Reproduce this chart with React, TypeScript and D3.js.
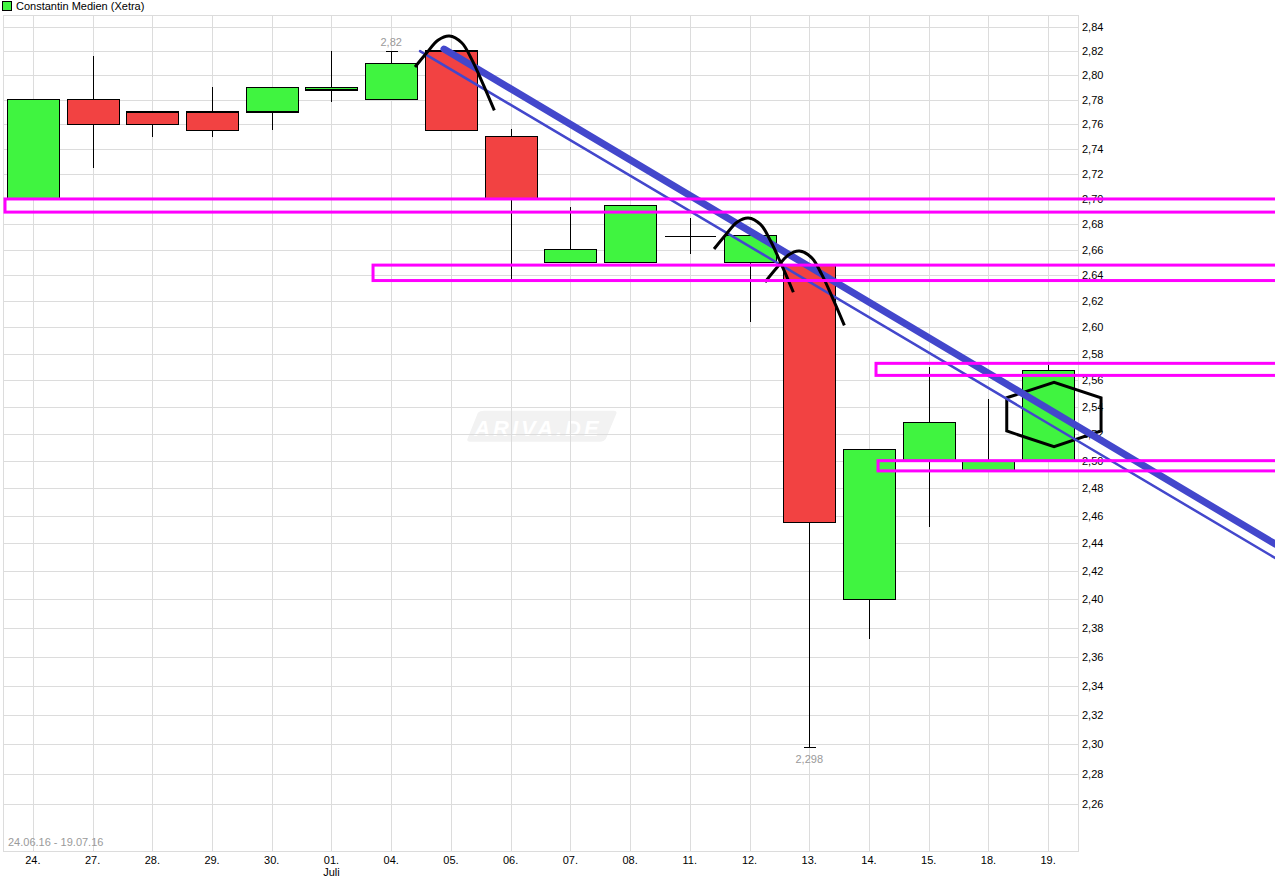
import React from 'react';
import * as d3 from 'd3';

// ---------- data ----------
const dayLabels = ['24.', '27.', '28.', '29.', '30.', '01.', '04.', '05.', '06.', '07.', '08.', '11.', '12.', '13.', '14.', '15.', '18.', '19.'];
const monthLabels = ['', '', '', '', '', 'Juli', '', '', '', '', '', '', '', '', '', '', '', ''];
const opens = [2.70, 2.78, 2.77, 2.77, 2.77, 2.788, 2.78, 2.82, 2.75, 2.65, 2.65, 2.67, 2.65, 2.648, 2.40, 2.50, 2.493, 2.50];
const highs = [2.78, 2.816, 2.771, 2.79, 2.79, 2.82, 2.82, 2.82, 2.756, 2.694, 2.695, 2.685, 2.671, 2.648, 2.508, 2.57, 2.546, 2.571];
const lows = [2.70, 2.725, 2.75, 2.75, 2.755, 2.778, 2.78, 2.755, 2.637, 2.65, 2.65, 2.657, 2.604, 2.298, 2.372, 2.452, 2.493, 2.50];
const closes = [2.78, 2.76, 2.76, 2.755, 2.79, 2.79, 2.81, 2.755, 2.70, 2.66, 2.695, 2.67, 2.671, 2.455, 2.508, 2.528, 2.50, 2.567];
const yTicks = [2.26, 2.28, 2.30, 2.32, 2.34, 2.36, 2.38, 2.40, 2.42, 2.44, 2.46, 2.48, 2.50, 2.52, 2.54, 2.56, 2.58, 2.60, 2.62, 2.64, 2.66, 2.68, 2.70, 2.72, 2.74, 2.76, 2.78, 2.80, 2.82, 2.84];
const title = 'Constantin Medien (Xetra)';
const rangeLabel = '24.06.16 - 19.07.16';
const highLabelIndex = 6;
const highLabel = '2,82';
const lowLabelIndex = 13;
const lowLabel = '2,298';

// annotations (day index, price)
const zoneLeft = [-0.4665, 5.696, 14.118, 14.152];
const zoneTop = [2.70, 2.648, 2.5726, 2.50];
const zoneBottom = [2.6896, 2.636, 2.5635, 2.4925];
const zoneRightIndex = 21.5;
const trendThick = [[6.884, 2.8217], [20.80, 2.4395]];
const trendThin = [[6.483, 2.820], [20.80, 2.4295]];
const arcStartI = [6.399, 11.406, 12.26];
const arcStartP = [2.8068, 2.6606, 2.6348];
const arcDays = [0, 0.196, 0.390, 0.574, 0.782, 0.949, 1.117, 1.328];
const arcLog = [0, 0.0042, 0.00794, 0.00911, 0.00714, 0.00226, -0.00412, -0.01273];
const hexagon = [[16.307, 2.5467], [17.099, 2.5583], [17.886, 2.5467], [17.886, 2.5219], [17.099, 2.5103], [16.307, 2.5219]];
const watermarkAt = [8.49, 2.525];

// ---------- layout ----------
const W = 1275;
const H = 888;
const left = 3;
const right = 1078;
const top = 15;
const bottom = 851;
const FONT = '"Liberation Sans", Arial, sans-serif';

const fmt = (v: number) => v.toFixed(2).replace('.', ',');

export default function App() {
  const x = d3.scaleBand<string>().domain(dayLabels.map((d, i) => i + '')).range([left, right]).padding(0);
  const step = x.step();
  const bodyW = step * 0.87;
  const xi = d3.scaleLinear().domain([-0.5, dayLabels.length - 0.5]).range([left, right]);
  const y = d3.scaleLog().domain([2.2289, 2.8501]).range([bottom, top]);

  const line = d3.line<number[]>().x((d) => xi(d[0])).y((d) => y(d[1]));
  const curve = d3.line<number[]>().x((d) => xi(d[0])).y((d) => y(d[1])).curve(d3.curveCatmullRom.alpha(0.5));

  const green = '#40f440';
  const red = '#f24242';
  const magenta = '#ff00ff';
  const blue = '#4347cc';

  const wmX = xi(watermarkAt[0]);
  const wmY = y(watermarkAt[1]);

  return (
    <svg width={W} height={H} style={{ position: 'absolute', left: 0, top: 0, background: '#fff' }} xmlns="http://www.w3.org/2000/svg">
      <rect x={0} y={0} width={W} height={H} fill="#fff" />
      {/* watermark */}
      <g transform={`translate(${wmX},${wmY})`}>
        <path d="M -62 -14 Q -60 -16 -56 -16 L 74 -16 Q 78 -16 76 -12 L 66 12 Q 64 15 60 15 L -70 15 Q -74 15 -72 11 Z" fill="#f2f2f2" />
        <text x={-2} y={9} textAnchor="middle" fontFamily={FONT} fontSize={22} fontWeight="bold" fontStyle="italic" letterSpacing={3} fill="#ffffff">ARIVA.DE</text>
      </g>
      {/* grid */}
      <g stroke="#dcdcdc" strokeWidth={1} shapeRendering="crispEdges">
        {yTicks.map((t) => (
          <line key={'h' + t} x1={left} x2={right} y1={Math.round(y(t)) + 0.5} y2={Math.round(y(t)) + 0.5} />
        ))}
        {dayLabels.map((d, i) => {
          const cx = Math.round((x(i + '') as number) + step / 2) + 0.5;
          return <line key={'v' + i} x1={cx} x2={cx} y1={top} y2={bottom} />;
        })}
        <rect x={left + 0.5} y={top + 0.5} width={right - left} height={bottom - top} fill="none" />
      </g>
      {/* y labels */}
      <g fontFamily={FONT} fontSize={11} fill="#000">
        {yTicks.map((t) => (
          <text key={'yl' + t} x={right + 4} y={y(t) + 4}>{fmt(t)}</text>
        ))}
      </g>
      {/* x labels */}
      <g fontFamily={FONT} fontSize={11} fill="#000" textAnchor="middle">
        {dayLabels.map((d, i) => {
          const cx = (x(i + '') as number) + step / 2;
          return (
            <g key={'xl' + i}>
              <text x={cx} y={864}>{d}</text>
              {monthLabels[i] ? <text x={cx} y={876}>{monthLabels[i]}</text> : null}
            </g>
          );
        })}
      </g>
      <text x={8} y={846} fontFamily={FONT} fontSize={11} fill="#9a9a9a">{rangeLabel}</text>
      {/* legend */}
      <rect x={2.5} y={1.5} width={9} height={9} fill={green} stroke="#000" strokeWidth={1} />
      <text x={16} y={10} fontFamily={FONT} fontSize={11} fill="#000">{title}</text>
      {/* candles */}
      <g shapeRendering="crispEdges">
        {dayLabels.map((d, i) => {
          const cx = Math.round((x(i + '') as number) + step / 2) + 0.5;
          const o = opens[i];
          const c = closes[i];
          const yTop = y(Math.max(o, c));
          const yBot = y(Math.min(o, c));
          const up = c >= o;
          const flat = Math.abs(yBot - yTop) < 1;
          return (
            <g key={'c' + i}>
              <line x1={cx} x2={cx} y1={y(highs[i])} y2={y(lows[i])} stroke="#000" strokeWidth={1} />
              {flat ? (
                <line x1={cx - bodyW / 2} x2={cx + bodyW / 2} y1={yTop} y2={yTop} stroke="#000" strokeWidth={1} />
              ) : (
                <rect x={cx - bodyW / 2} y={yTop} width={bodyW} height={yBot - yTop} fill={up ? green : red} stroke="#000" strokeWidth={1.3} />
              )}
            </g>
          );
        })}
        {(() => {
          const hx = Math.round((x(highLabelIndex + '') as number) + step / 2) + 0.5;
          const lx = Math.round((x(lowLabelIndex + '') as number) + step / 2) + 0.5;
          return (
            <g stroke="#000" strokeWidth={1}>
              <line x1={hx - 6} x2={hx + 6} y1={y(highs[highLabelIndex])} y2={y(highs[highLabelIndex])} />
              <line x1={lx - 6} x2={lx + 6} y1={y(lows[lowLabelIndex])} y2={y(lows[lowLabelIndex])} />
            </g>
          );
        })()}
      </g>
      <text x={(x(highLabelIndex + '') as number) + step / 2} y={y(highs[highLabelIndex]) - 5} textAnchor="middle" fontFamily={FONT} fontSize={11} fill="#9a9a9a">{highLabel}</text>
      <text x={(x(lowLabelIndex + '') as number) + step / 2} y={y(lows[lowLabelIndex]) + 16} textAnchor="middle" fontFamily={FONT} fontSize={11} fill="#9a9a9a">{lowLabel}</text>
      {/* hexagon */}
      <path d={line(hexagon) + 'Z'} fill="none" stroke="#000" strokeWidth={3} strokeLinejoin="miter" />
      {/* trend lines */}
      <path d={line(trendThick) as string} fill="none" stroke={blue} strokeWidth={7} strokeLinecap="round" />
      <path d={line(trendThin) as string} fill="none" stroke={blue} strokeWidth={2.5} strokeLinecap="round" />
      {/* arcs */}
      {arcStartI.map((si, k) => {
        const pts = arcDays.map((dd, j) => [si + dd, arcStartP[k] * Math.exp(arcLog[j])]);
        return <path key={'arc' + k} d={curve(pts) as string} fill="none" stroke="#000" strokeWidth={3} strokeLinecap="butt" />;
      })}
      {/* zones */}
      {zoneLeft.map((zl, k) => {
        const x1 = xi(zl);
        const x2 = xi(zoneRightIndex);
        const y1 = y(zoneTop[k]);
        const y2 = y(zoneBottom[k]);
        return <rect key={'z' + k} x={x1} y={y1} width={x2 - x1} height={y2 - y1} fill="none" stroke={magenta} strokeWidth={3} />;
      })}
    </svg>
  );
}
